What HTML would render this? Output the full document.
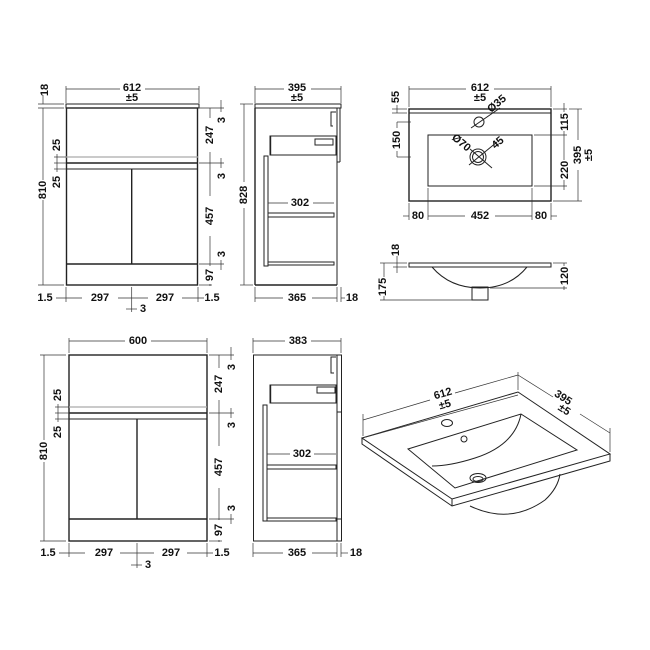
<!DOCTYPE html>
<html><head><meta charset="utf-8"><style>
html,body{margin:0;padding:0;background:#fff;}
svg{display:block;}
text{font-family:"Liberation Sans",sans-serif;font-weight:bold;font-size:11px;fill:#111;text-anchor:middle;dominant-baseline:central;}
.l{stroke:#222;stroke-width:1;fill:none;}
.t{stroke:#333;stroke-width:0.7;fill:none;}
.g{stroke:#aaa;stroke-width:1.2;fill:none;}
.b{stroke:#222;stroke-width:1.4;fill:none;}
</style></head><body>
<svg width="650" height="650" viewBox="0 0 650 650" xmlns="http://www.w3.org/2000/svg">
<rect width="650" height="650" fill="#fff"/>

<!-- ===== TOP LEFT CABINET ===== -->
<rect class="l" x="66" y="104" width="133" height="4"/>
<rect class="b" x="66.5" y="108" width="131" height="177"/>
<line class="g" x1="66" y1="157" x2="198" y2="157"/>
<line class="b" x1="66" y1="163" x2="198" y2="163"/>
<line class="l" x1="66" y1="169" x2="198" y2="169"/>
<line class="b" x1="66" y1="264" x2="198" y2="264"/>
<line class="b" x1="131.7" y1="169" x2="131.7" y2="264"/>
<!-- top dim -->
<line class="t" x1="66" y1="89" x2="120" y2="89"/><line class="t" x1="145" y1="89" x2="199" y2="89"/>
<line class="t" x1="66" y1="86" x2="66" y2="103"/><line class="t" x1="199" y1="86" x2="199" y2="103"/>
<text x="132" y="88">612</text><text x="132" y="98">±5</text>
<!-- left dims -->
<text transform="translate(45,90) rotate(-90)">18</text>
<line class="t" x1="38" y1="104" x2="64" y2="104"/><line class="t" x1="38" y1="108" x2="64" y2="108"/>
<line class="t" x1="43" y1="95" x2="43" y2="104"/>
<line class="t" x1="43" y1="108" x2="43" y2="180"/><line class="t" x1="43" y1="200" x2="43" y2="285"/>
<text transform="translate(43,190) rotate(-90)">810</text>
<line class="t" x1="38" y1="285" x2="64" y2="285"/>
<text transform="translate(57,145) rotate(-90)">25</text>
<text transform="translate(57,182) rotate(-90)">25</text>
<line class="t" x1="57" y1="154" x2="57" y2="172"/>
<line class="t" x1="54" y1="157" x2="66" y2="157"/><line class="t" x1="54" y1="163" x2="66" y2="163"/><line class="t" x1="54" y1="169" x2="66" y2="169"/>
<!-- right dims -->
<line class="t" x1="199" y1="108" x2="224" y2="108"/><line class="t" x1="199" y1="163" x2="224" y2="163"/><line class="t" x1="199" y1="264" x2="224" y2="264"/><line class="t" x1="199" y1="285" x2="212" y2="285"/>
<line class="t" x1="210" y1="108" x2="210" y2="118"/><line class="t" x1="210" y1="152" x2="210" y2="196"/><line class="t" x1="210" y1="236" x2="210" y2="266"/><line class="t" x1="210" y1="284" x2="210" y2="286"/>
<text transform="translate(210,135) rotate(-90)">247</text>
<text transform="translate(210,216) rotate(-90)">457</text>
<text transform="translate(210,275) rotate(-90)">97</text>
<line class="t" x1="221" y1="100" x2="221" y2="112"/><line class="t" x1="221" y1="158" x2="221" y2="168"/><line class="t" x1="221" y1="260" x2="221" y2="270"/>
<text transform="translate(222,120) rotate(-90)">3</text>
<text transform="translate(222,176) rotate(-90)">3</text>
<text transform="translate(222,254) rotate(-90)">3</text>
<!-- bottom dims -->
<line class="t" x1="66" y1="287" x2="66" y2="302"/><line class="t" x1="198" y1="287" x2="198" y2="302"/><line class="t" x1="131.7" y1="287" x2="131.7" y2="312"/>
<line class="t" x1="56" y1="298" x2="82" y2="298"/><line class="t" x1="118" y1="298" x2="148" y2="298"/><line class="t" x1="182" y1="298" x2="204" y2="298"/>
<text x="45" y="298">1.5</text><text x="100" y="298">297</text><text x="165" y="298">297</text><text x="212" y="298">1.5</text>
<line class="t" x1="126" y1="309" x2="137" y2="309"/><text x="143" y="309">3</text>

<!-- ===== TOP SIDE VIEW ===== -->
<rect class="l" x="255" y="104" width="86" height="4"/>
<line class="b" x1="255" y1="108" x2="255" y2="285"/>
<line class="b" x1="255" y1="285" x2="337" y2="285"/>
<line class="l" x1="337" y1="108" x2="337" y2="285"/>
<line class="l" x1="340" y1="108" x2="340" y2="162"/>
<line class="l" x1="337" y1="162" x2="340" y2="162"/>
<polyline class="l" points="336,112 331,112 331,126 333,126"/>
<rect class="l" x="270" y="136" width="66" height="19"/>
<line class="b" x1="270.5" y1="136" x2="270.5" y2="155"/>
<rect class="l" x="315" y="139" width="18" height="6"/>
<rect class="l" x="264" y="156" width="4" height="110"/>
<rect class="l" x="268" y="213" width="66" height="4"/>
<rect class="l" x="268" y="262" width="66" height="3"/>
<line class="t" x1="268" y1="203" x2="288" y2="203"/><line class="t" x1="313" y1="203" x2="334" y2="203"/><text x="300" y="203">302</text>
<line class="t" x1="255" y1="86" x2="255" y2="103"/><line class="t" x1="341" y1="86" x2="341" y2="103"/>
<line class="t" x1="255" y1="89" x2="284" y2="89"/><line class="t" x1="311" y1="89" x2="341" y2="89"/>
<text x="297" y="88">395</text><text x="297" y="98">±5</text>
<line class="t" x1="240" y1="104" x2="253" y2="104"/><line class="t" x1="240" y1="285" x2="253" y2="285"/>
<line class="t" x1="244" y1="104" x2="244" y2="182"/><line class="t" x1="244" y1="208" x2="244" y2="285"/>
<text transform="translate(244,195) rotate(-90)">828</text>
<line class="t" x1="255" y1="287" x2="255" y2="302"/><line class="t" x1="337" y1="287" x2="337" y2="302"/><line class="t" x1="341" y1="287" x2="341" y2="302"/>
<line class="t" x1="255" y1="298" x2="283" y2="298"/><line class="t" x1="312" y1="298" x2="337" y2="298"/><line class="t" x1="341" y1="298" x2="345" y2="298"/>
<text x="297" y="298">365</text><text x="352" y="298">18</text>

<!-- ===== TOP RIGHT PLAN ===== -->
<rect class="b" x="409" y="109" width="142" height="92"/>
<line class="l" x1="409" y1="113" x2="551" y2="113"/>
<rect class="l" x="428" y="135" width="104" height="51"/>
<circle class="l" cx="479" cy="122" r="5"/>
<line class="l" x1="471" y1="128" x2="500" y2="108"/>
<circle class="l" cx="478" cy="157" r="8"/><circle class="l" cx="478" cy="157" r="5.5"/>
<line class="l" x1="470" y1="149" x2="492" y2="168"/><line class="l" x1="469" y1="165" x2="497" y2="142"/>
<text transform="translate(497,104) rotate(-40)">Ø35</text>
<text transform="translate(461,143) rotate(40)">Ø70</text>
<text transform="translate(498,143) rotate(-40)">45</text>
<line class="t" x1="409" y1="86" x2="409" y2="107"/><line class="t" x1="551" y1="86" x2="551" y2="107"/>
<line class="t" x1="409" y1="89" x2="466" y2="89"/><line class="t" x1="494" y1="89" x2="551" y2="89"/>
<text x="480" y="88">612</text><text x="480" y="98">±5</text>
<text transform="translate(396,97) rotate(-90)">55</text>
<line class="t" x1="392" y1="109" x2="407" y2="109"/><line class="t" x1="397" y1="105" x2="397" y2="113"/><line class="t" x1="392" y1="113" x2="407" y2="113"/>
<line class="t" x1="397" y1="122" x2="411" y2="122"/><line class="t" x1="397" y1="157" x2="411" y2="157"/>
<line class="t" x1="397" y1="122" x2="397" y2="128"/><line class="t" x1="397" y1="151" x2="397" y2="157"/>
<text transform="translate(397,140) rotate(-90)">150</text>
<line class="t" x1="553" y1="109" x2="567" y2="109"/><line class="t" x1="534" y1="135" x2="567" y2="135"/><line class="t" x1="534" y1="186" x2="567" y2="186"/><line class="t" x1="553" y1="201" x2="582" y2="201"/>
<line class="t" x1="564" y1="103" x2="564" y2="112"/><line class="t" x1="564" y1="131" x2="564" y2="160"/><line class="t" x1="564" y1="180" x2="564" y2="190"/>
<text transform="translate(565,122) rotate(-90)">115</text>
<text transform="translate(565,170) rotate(-90)">220</text>
<line class="t" x1="569" y1="109" x2="582" y2="109"/>
<line class="t" x1="578" y1="109" x2="578" y2="140"/><line class="t" x1="578" y1="170" x2="578" y2="201"/>
<text transform="translate(578,155) rotate(-90)">395</text><text transform="translate(589,155) rotate(-90)">±5</text>
<line class="t" x1="409" y1="203" x2="409" y2="220"/><line class="t" x1="428" y1="188" x2="428" y2="220"/><line class="t" x1="532" y1="188" x2="532" y2="220"/><line class="t" x1="551" y1="203" x2="551" y2="220"/>
<line class="t" x1="403" y1="216" x2="409" y2="216"/><line class="t" x1="428" y1="216" x2="465" y2="216"/><line class="t" x1="495" y1="216" x2="532" y2="216"/><line class="t" x1="551" y1="216" x2="557" y2="216"/>
<text x="418" y="216">80</text><text x="480" y="216">452</text><text x="541" y="216">80</text>

<!-- ===== SECTION ===== -->
<rect class="l" x="409" y="263" width="142" height="4"/>
<path class="l" d="M432 267 Q450 288 480 288 Q510 288 527 267"/>
<rect class="l" x="472" y="287" width="16" height="13"/>
<line class="t" x1="393" y1="263" x2="407" y2="263"/><line class="t" x1="393" y1="267" x2="407" y2="267"/>
<line class="t" x1="397" y1="256" x2="397" y2="273"/>
<text transform="translate(396,250) rotate(-90)">18</text>
<line class="t" x1="380" y1="263" x2="393" y2="263"/><line class="t" x1="380" y1="300" x2="472" y2="300"/>
<line class="t" x1="384" y1="263" x2="384" y2="277"/><line class="t" x1="384" y1="296" x2="384" y2="300"/>
<text transform="translate(383,287) rotate(-90)">175</text>
<line class="t" x1="553" y1="263" x2="567" y2="263"/><line class="t" x1="490" y1="288" x2="567" y2="288"/>
<line class="t" x1="564" y1="263" x2="564" y2="266"/><line class="t" x1="564" y1="286" x2="564" y2="290"/>
<text transform="translate(565,276) rotate(-90)">120</text>

<!-- ===== BOTTOM LEFT CABINET ===== -->
<rect class="b" x="69" y="355" width="138" height="186"/>
<line class="g" x1="69" y1="407" x2="207" y2="407"/>
<line class="b" x1="69" y1="413" x2="207" y2="413"/>
<line class="l" x1="69" y1="419" x2="207" y2="419"/>
<line class="b" x1="69" y1="519" x2="207" y2="519"/>
<line class="b" x1="137" y1="419" x2="137" y2="519"/>
<line class="t" x1="69" y1="338" x2="69" y2="353"/><line class="t" x1="207" y1="338" x2="207" y2="353"/>
<line class="t" x1="69" y1="341" x2="125" y2="341"/><line class="t" x1="151" y1="341" x2="207" y2="341"/>
<text x="138" y="341">600</text>
<line class="t" x1="40" y1="355" x2="66" y2="355"/><line class="t" x1="40" y1="541" x2="66" y2="541"/>
<line class="t" x1="44" y1="355" x2="44" y2="440"/><line class="t" x1="44" y1="462" x2="44" y2="541"/>
<text transform="translate(44,451) rotate(-90)">810</text>
<text transform="translate(58,395) rotate(-90)">25</text>
<text transform="translate(58,432) rotate(-90)">25</text>
<line class="t" x1="58" y1="404" x2="58" y2="422"/>
<line class="t" x1="55" y1="407" x2="69" y2="407"/><line class="t" x1="55" y1="413" x2="69" y2="413"/><line class="t" x1="55" y1="419" x2="69" y2="419"/>
<line class="t" x1="209" y1="355" x2="234" y2="355"/><line class="t" x1="209" y1="413" x2="234" y2="413"/><line class="t" x1="209" y1="519" x2="234" y2="519"/><line class="t" x1="209" y1="541" x2="222" y2="541"/>
<line class="t" x1="219" y1="355" x2="219" y2="368"/><line class="t" x1="219" y1="400" x2="219" y2="446"/><line class="t" x1="219" y1="488" x2="219" y2="520"/><line class="t" x1="219" y1="540" x2="219" y2="542"/>
<text transform="translate(219,384) rotate(-90)">247</text>
<text transform="translate(219,467) rotate(-90)">457</text>
<text transform="translate(219,530) rotate(-90)">97</text>
<line class="t" x1="231" y1="347" x2="231" y2="360"/><line class="t" x1="231" y1="408" x2="231" y2="418"/><line class="t" x1="231" y1="514" x2="231" y2="524"/>
<text transform="translate(232,367) rotate(-90)">3</text>
<text transform="translate(232,425) rotate(-90)">3</text>
<text transform="translate(232,508) rotate(-90)">3</text>
<line class="t" x1="69" y1="543" x2="69" y2="557"/><line class="t" x1="207" y1="543" x2="207" y2="557"/><line class="t" x1="137" y1="543" x2="137" y2="568"/>
<line class="t" x1="59" y1="553" x2="85" y2="553"/><line class="t" x1="120" y1="553" x2="154" y2="553"/><line class="t" x1="187" y1="553" x2="213" y2="553"/>
<text x="48" y="553">1.5</text><text x="104" y="553">297</text><text x="171" y="553">297</text><text x="222" y="553">1.5</text>
<line class="t" x1="131" y1="565" x2="142" y2="565"/><text x="148" y="565">3</text>

<!-- ===== BOTTOM SIDE VIEW ===== -->
<rect class="l" x="253.5" y="355" width="88" height="186"/>
<line class="l" x1="337" y1="355" x2="337" y2="541"/>
<line class="l" x1="337" y1="412" x2="341" y2="412"/><line class="l" x1="337" y1="519" x2="341" y2="519"/>
<polyline class="l" points="336,357 331,357 331,373 334,373"/>
<rect class="l" x="270" y="385" width="66" height="18"/>
<line class="b" x1="270.5" y1="385" x2="270.5" y2="403"/>
<rect class="l" x="317" y="387" width="18" height="6"/>
<rect class="l" x="263" y="405" width="4" height="116"/>
<rect class="l" x="267" y="465" width="69" height="4"/>
<rect class="l" x="267" y="518" width="69" height="3"/>
<line class="t" x1="267" y1="454" x2="290" y2="454"/><line class="t" x1="314" y1="454" x2="336" y2="454"/><text x="302" y="454">302</text>
<line class="t" x1="253" y1="338" x2="253" y2="353"/><line class="t" x1="341" y1="338" x2="341" y2="353"/>
<line class="t" x1="253" y1="341" x2="285" y2="341"/><line class="t" x1="311" y1="341" x2="341" y2="341"/>
<text x="298" y="341">383</text>
<line class="t" x1="253" y1="543" x2="253" y2="557"/><line class="t" x1="337" y1="543" x2="337" y2="557"/><line class="t" x1="341" y1="543" x2="341" y2="557"/>
<line class="t" x1="253" y1="553" x2="283" y2="553"/><line class="t" x1="312" y1="553" x2="337" y2="553"/><line class="t" x1="341" y1="553" x2="348" y2="553"/>
<text x="297" y="553">365</text><text x="356" y="553">18</text>

<!-- ===== ISOMETRIC BASIN ===== -->
<path class="l" fill="#fff" d="M470 506 Q510 525 545 500 Q558 488 560 474"/>
<polygon class="l" points="362,438 518,392 610,454 452,499" fill="#fff"/>
<polyline class="l" points="362,438 362,444 452,506 610,461 610,454"/>
<line class="l" x1="452" y1="499" x2="452" y2="506"/>
<line class="t" x1="366" y1="437" x2="518" y2="395"/>
<polygon class="l" points="408,449 521,414 577,450 455,488"/>
<path class="l" d="M521 414 Q515 445 475 458 Q450 466 432 466"/>
<ellipse class="l" cx="447" cy="423" rx="5.5" ry="3.5"/>
<circle class="l" cx="464" cy="439" r="3"/>
<ellipse class="l" cx="478" cy="478" rx="8" ry="4.5"/><ellipse class="l" cx="478" cy="479" rx="5" ry="2.5"/>
<line class="t" x1="363" y1="420" x2="430" y2="400"/><line class="t" x1="455" y1="393" x2="518" y2="375"/>
<line class="t" x1="363" y1="414" x2="363" y2="436"/><line class="t" x1="518" y1="372" x2="518" y2="390"/>
<text transform="translate(443,394) rotate(-16)">612</text><text transform="translate(445,405) rotate(-16)">±5</text>
<line class="t" x1="518" y1="375" x2="553" y2="397"/><line class="t" x1="580" y1="414" x2="610" y2="433"/>
<line class="t" x1="610" y1="428" x2="610" y2="452"/>
<text transform="translate(563,398) rotate(33)">395</text><text transform="translate(564,410) rotate(33)">±5</text>
</svg>
</body></html>
